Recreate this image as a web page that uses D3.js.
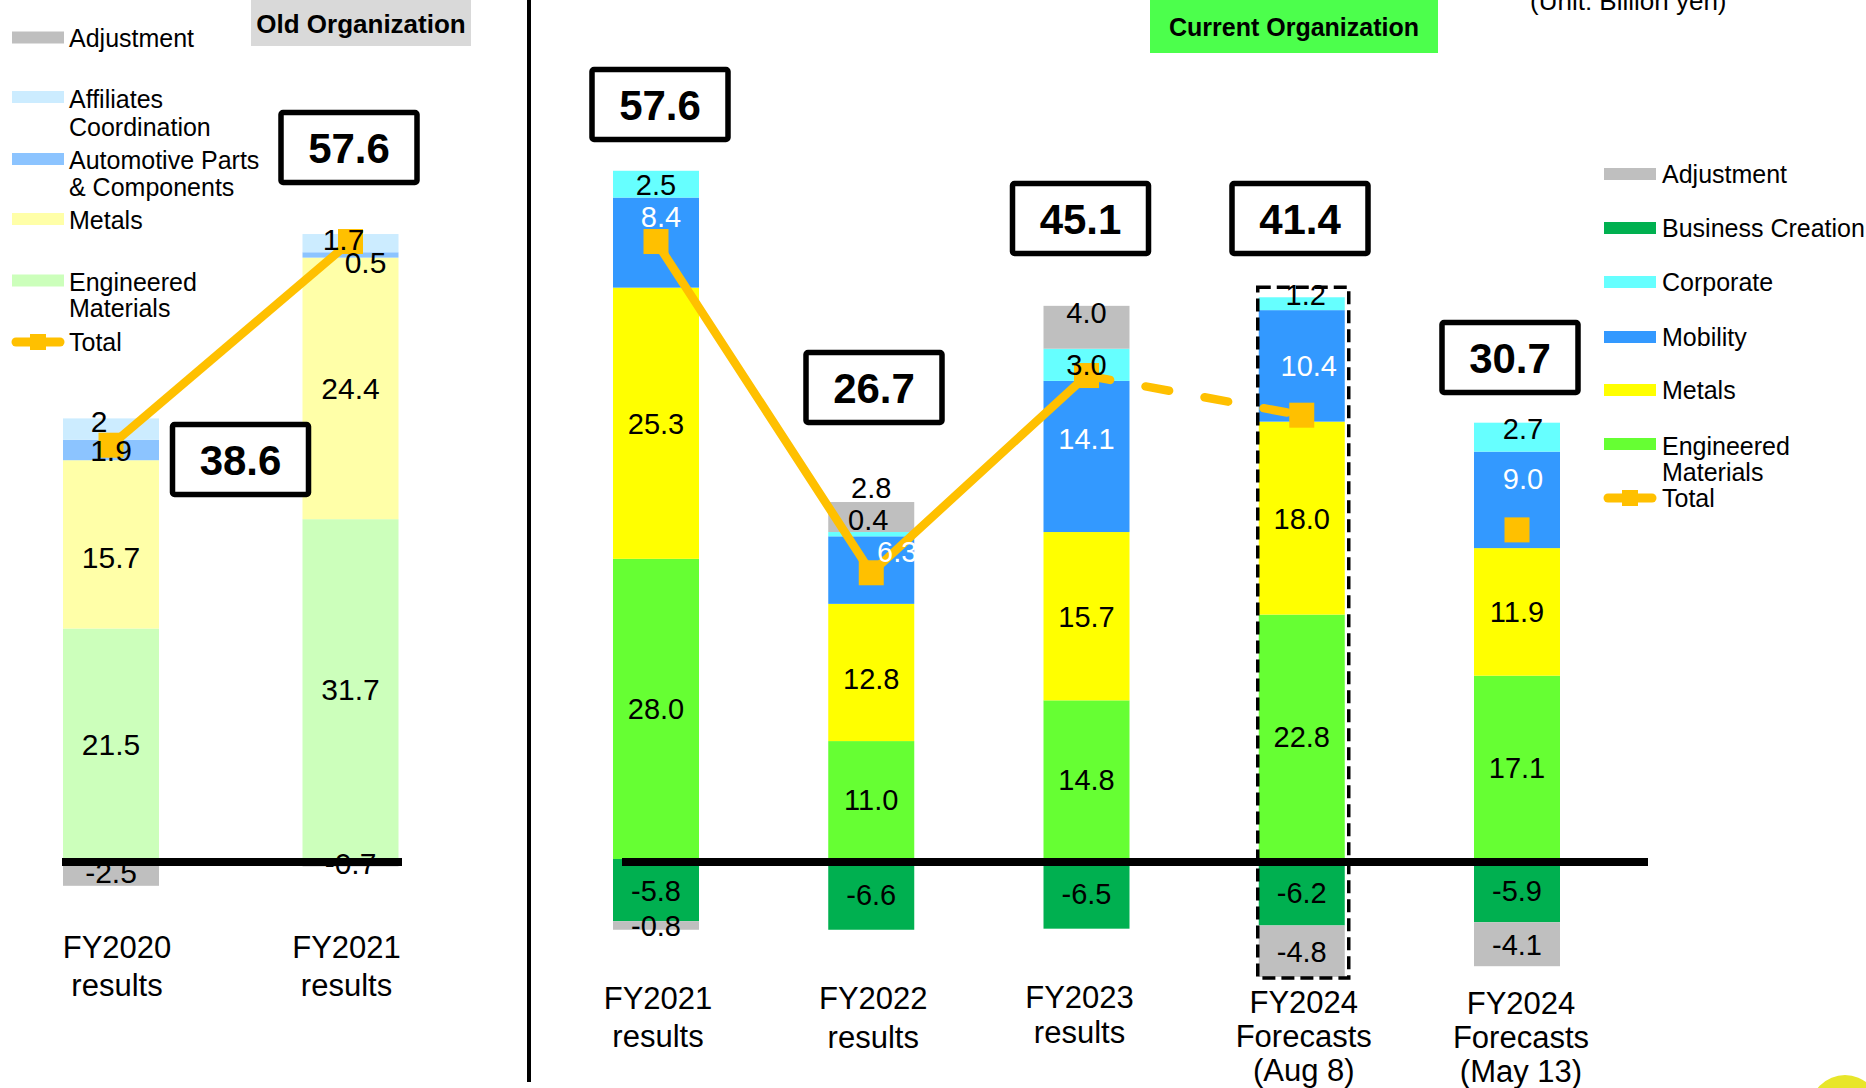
<!DOCTYPE html>
<html>
<head>
<meta charset="utf-8">
<script src="https://cdn.jsdelivr.net/npm/d3@7"></script>
<style>
  html, body { margin: 0; padding: 0; background: #fff; }
  svg { display: block; font-family: "Liberation Sans", Arial, sans-serif; }
</style>
</head>
<body>
<svg id="chart" width="1866" height="1088"></svg>
<script>
// ---------- Old organization (Billion yen) ----------
const oldCategories = ["FY2020\nresults", "FY2021\nresults"];
const oldEngineered = [21.5, 31.7];
const oldMetals = [15.7, 24.4];
const oldAutomotive = [1.9, 0.5];
const oldAffiliates = [2.0, 1.7];
const oldAdjustment = [-2.5, -0.7];
const oldTotal = [38.6, 57.6];

// ---------- Current organization (Billion yen) ----------
const newCategories = ["FY2021\nresults", "FY2022\nresults", "FY2023\nresults",
                       "FY2024\nForecasts\n(Aug 8)", "FY2024\nForecasts\n(May 13)"];
const newEngineered = [28.0, 11.0, 14.8, 22.8, 17.1];
const newMetals = [25.3, 12.8, 15.7, 18.0, 11.9];
const newMobility = [8.4, 6.3, 14.1, 10.4, 9.0];
const newCorporate = [2.5, 0.4, 3.0, 1.2, 2.7];
const newBusinessCreation = [-5.8, -6.6, -6.5, -6.2, -5.9];
const newAdjustment = [-0.8, 2.8, 4.0, -4.8, -4.1];
const newTotal = [57.6, 26.7, 45.1, 41.4, 30.7];

const TOTAL_COLOR = "#FFC000";

const oldSeries = [
  { key: "eng",  name: "Engineered\nMaterials",           color: "#CCFFBB", values: oldEngineered },
  { key: "met",  name: "Metals",                          color: "#FFFFA8", values: oldMetals },
  { key: "auto", name: "Automotive Parts\n& Components",  color: "#8CC4FF", values: oldAutomotive },
  { key: "aff",  name: "Affiliates\nCoordination",        color: "#CCECFF", values: oldAffiliates },
  { key: "adj",  name: "Adjustment",                      color: "#BFBFBF", values: oldAdjustment }
];
const newSeries = [
  { key: "eng",  name: "Engineered\nMaterials", color: "#66FF33", values: newEngineered },
  { key: "met",  name: "Metals",                color: "#FFFF00", values: newMetals },
  { key: "mob",  name: "Mobility",              color: "#3399FF", values: newMobility, labelColor: "#FFFFFF" },
  { key: "corp", name: "Corporate",             color: "#66FFFF", values: newCorporate },
  { key: "biz",  name: "Business Creation",     color: "#00B050", values: newBusinessCreation },
  { key: "adj",  name: "Adjustment",            color: "#BFBFBF", values: newAdjustment }
];

const svg = d3.select("#chart");

// shared value axis for both panels
const Y0 = 859, PX = 10.72;
const y = d3.scaleLinear().domain([0, 10]).range([Y0, Y0 - 10 * PX]);

const xOld = d3.scalePoint().domain(oldCategories).range([111, 350.5]);
const xNew = d3.scalePoint().domain(newCategories).range([656, 1517]);

// plain hyphen-minus, one decimal
const fmt1 = v => v.toFixed(1);

function buildRows(cats, series) {
  return cats.map((c, i) => {
    const r = { cat: c };
    series.forEach(s => { r[s.key] = s.values[i]; });
    return r;
  });
}

// label nudges for crowded segments: "index|key" -> [dx, dy]
const oldNudge = {
  "0|aff": [-12, -8], "0|met": [0, 13], "1|aff": [-7, -4], "1|auto": [15, 7]
};
const newNudge = {
  "0|mob": [5, -26], "1|adj": [0, -29], "1|corp": [-3, -15], "1|mob": [26, -19], "1|met": [0, 6],
  "2|adj": [0, -15], "2|mob": [0, -18], "3|corp": [4, -9], "3|mob": [7, 0],
  "4|corp": [6, -9], "4|mob": [6, -21]
};

function drawPanel(cfg) {
  const { cats, series, x, barW, nudge, fmt, labelSize, totals, solidTo, dashedTo } = cfg;
  const rows = buildRows(cats, series);
  const stack = d3.stack().keys(series.map(s => s.key)).offset(d3.stackOffsetDiverging);
  const layers = stack(rows);
  const color = Object.fromEntries(series.map(s => [s.key, s.color]));
  const labelColor = Object.fromEntries(series.map(s => [s.key, s.labelColor || "#000"]));

  const gBars = svg.append("g");
  layers.forEach(layer => {
    gBars.selectAll(null).data(layer).join("rect")
      .attr("x", d => x(d.data.cat) - barW / 2)
      .attr("width", barW)
      .attr("y", d => y(Math.max(d[0], d[1])))
      .attr("height", d => Math.abs(y(d[0]) - y(d[1])))
      .attr("fill", color[layer.key]);
  });

  // total line + markers
  const pts = cats.map((c, i) => [x(c), y(totals[i])]);
  const line = d3.line();
  const gTot = svg.append("g");
  gTot.append("path").attr("d", line(pts.slice(0, solidTo + 1)))
    .attr("fill", "none").attr("stroke", TOTAL_COLOR).attr("stroke-width", 8.5)
    .attr("stroke-linejoin", "round");
  if (dashedTo != null) {
    gTot.append("path").attr("d", line(pts.slice(solidTo, dashedTo + 1)))
      .attr("fill", "none").attr("stroke", TOTAL_COLOR).attr("stroke-width", 8.5)
      .attr("stroke-dasharray", "24 36").attr("stroke-linecap", "round");
  }
  gTot.selectAll("rect").data(pts).join("rect")
    .attr("x", d => d[0] - 12.5).attr("y", d => d[1] - 12.5)
    .attr("width", 25).attr("height", 25).attr("fill", TOTAL_COLOR);

  // segment value labels
  const gLab = svg.append("g").attr("font-size", labelSize).attr("text-anchor", "middle");
  layers.forEach(layer => {
    layer.forEach((d, i) => {
      const v = d.data[layer.key];
      const n = nudge[i + "|" + layer.key] || [0, 0];
      const cy = y((d[0] + d[1]) / 2) + n[1];
      gLab.append("text")
        .attr("x", x(d.data.cat) + n[0])
        .attr("y", cy + labelSize * 0.36)
        .attr("fill", labelColor[layer.key])
        .text(fmt(v));
    });
  });
  return layers;
}

drawPanel({
  cats: oldCategories, series: oldSeries, x: xOld, barW: 96, nudge: oldNudge,
  fmt: v => String(v), labelSize: 30, totals: oldTotal, solidTo: 1, dashedTo: null
});
drawPanel({
  cats: newCategories, series: newSeries, x: xNew, barW: 86, nudge: newNudge,
  fmt: fmt1, labelSize: 29, totals: newTotal, solidTo: 2, dashedTo: 3
});

// zero lines
svg.append("line").attr("x1", 62).attr("x2", 402).attr("y1", 862).attr("y2", 862)
  .attr("stroke", "#000").attr("stroke-width", 8);
svg.append("line").attr("x1", 622).attr("x2", 1648).attr("y1", 862).attr("y2", 862)
  .attr("stroke", "#000").attr("stroke-width", 8);

// dashed frame around the latest forecast
{
  const i = 3, c = newCategories[i];
  let pos = 0, neg = 0;
  newSeries.forEach(s => { const v = s.values[i]; if (v > 0) pos += v; else neg += v; });
  const x0 = xNew(c) - 44, x1 = xNew(c) + 47;
  const y0 = y(pos) - 10, y1 = y(neg) + 1;
  svg.append("rect").attr("x", x0).attr("y", y0).attr("width", x1 - x0).attr("height", y1 - y0)
    .attr("fill", "none").attr("stroke", "#000").attr("stroke-width", 3.5)
    .attr("stroke-dasharray", "13 6");
}

// total boxes
function totalBoxes(totals, pos) {
  const g = svg.append("g");
  totals.forEach((t, i) => {
    const [cx, cy] = pos[i];
    g.append("rect").attr("x", cx - 68).attr("y", cy - 35).attr("width", 136).attr("height", 70)
      .attr("rx", 2).attr("fill", "#fff").attr("stroke", "#000").attr("stroke-width", 5.5);
    g.append("text").attr("x", cx).attr("y", cy + 15).attr("text-anchor", "middle")
      .attr("font-size", 42).attr("font-weight", "bold").text(fmt1(t));
  });
}
totalBoxes(oldTotal, [[240.5, 459.5], [349, 147.5]]);
totalBoxes(newTotal, [[660, 104.5], [874, 387.5], [1080.5, 218.5], [1300, 218.5], [1510, 357.5]]);

// category labels
function catLabels(cats, x, dx, base, lh) {
  const g = svg.append("g").attr("font-size", 31).attr("text-anchor", "middle");
  cats.forEach((c, i) => {
    c.split("\n").forEach((ln, k) => {
      g.append("text").attr("x", x(c) + dx[i]).attr("y", base[i] + k * lh[i]).text(ln);
    });
  });
}
catLabels(oldCategories, xOld, [6, -4], [958, 958], [38, 38]);
catLabels(newCategories, xNew, [2, 2, -7, 2, 4], [1009, 1009, 1008, 1013, 1014], [38, 39, 35, 34, 34]);

// legends
function legend(series, items, sx, tx) {
  const g = svg.append("g").attr("font-size", 25);
  const byKey = Object.fromEntries(series.map(s => [s.key, s]));
  items.forEach(it => {
    if (it.key === "total") {
      g.append("line").attr("x1", sx[0] + 4).attr("x2", sx[1] - 4).attr("y1", it.y).attr("y2", it.y)
        .attr("stroke", TOTAL_COLOR).attr("stroke-width", 9).attr("stroke-linecap", "round");
      const mx = (sx[0] + sx[1]) / 2;
      g.append("rect").attr("x", mx - 8).attr("y", it.y - 8).attr("width", 16).attr("height", 16)
        .attr("fill", TOTAL_COLOR);
      g.append("text").attr("x", tx).attr("y", it.y + 9).text("Total");
      return;
    }
    const s = byKey[it.key];
    const lh = it.lh || 0;
    g.append("rect").attr("x", sx[0]).attr("y", it.sy - 6).attr("width", sx[1] - sx[0]).attr("height", 12)
      .attr("fill", s.color);
    s.name.split("\n").forEach((ln, k) => {
      g.append("text").attr("x", tx).attr("y", it.y + 9 + k * lh).text(ln);
    });
  });
}
legend(oldSeries, [
  { key: "adj",  sy: 37.5, y: 38 },
  { key: "aff",  sy: 97,   y: 99,  lh: 28 },
  { key: "auto", sy: 159,  y: 160, lh: 27 },
  { key: "met",  sy: 219,  y: 220 },
  { key: "eng",  sy: 280.5, y: 282, lh: 26 },
  { key: "total", y: 342 }
], [12, 64], 69);
legend(newSeries, [
  { key: "adj",  sy: 174, y: 174 },
  { key: "biz",  sy: 228, y: 228 },
  { key: "corp", sy: 282, y: 282 },
  { key: "mob",  sy: 337, y: 337 },
  { key: "met",  sy: 390, y: 390 },
  { key: "eng",  sy: 444, y: 446, lh: 26 },
  { key: "total", y: 498 }
], [1604, 1656], 1662);

// panel headings
svg.append("rect").attr("x", 251).attr("y", 0).attr("width", 220).attr("height", 46).attr("fill", "#D9D9D9");
svg.append("text").attr("x", 361).attr("y", 33).attr("text-anchor", "middle")
  .attr("font-size", 26).attr("font-weight", "bold").text("Old Organization");
svg.append("rect").attr("x", 1150).attr("y", 0).attr("width", 288).attr("height", 53).attr("fill", "#4CFF4C");
svg.append("text").attr("x", 1294).attr("y", 36).attr("text-anchor", "middle")
  .attr("font-size", 25).attr("font-weight", "bold").text("Current Organization");
svg.append("text").attr("x", 1530).attr("y", 10).attr("font-size", 26).text("(Unit: Billion yen)");

// divider between the two organizations
svg.append("rect").attr("x", 527).attr("y", 0).attr("width", 4).attr("height", 1082).attr("fill", "#000");

// corner ornament
svg.append("circle").attr("cx", 1845).attr("cy", 1110).attr("r", 35).attr("fill", "#E8E62A");
</script>
</body>
</html>
